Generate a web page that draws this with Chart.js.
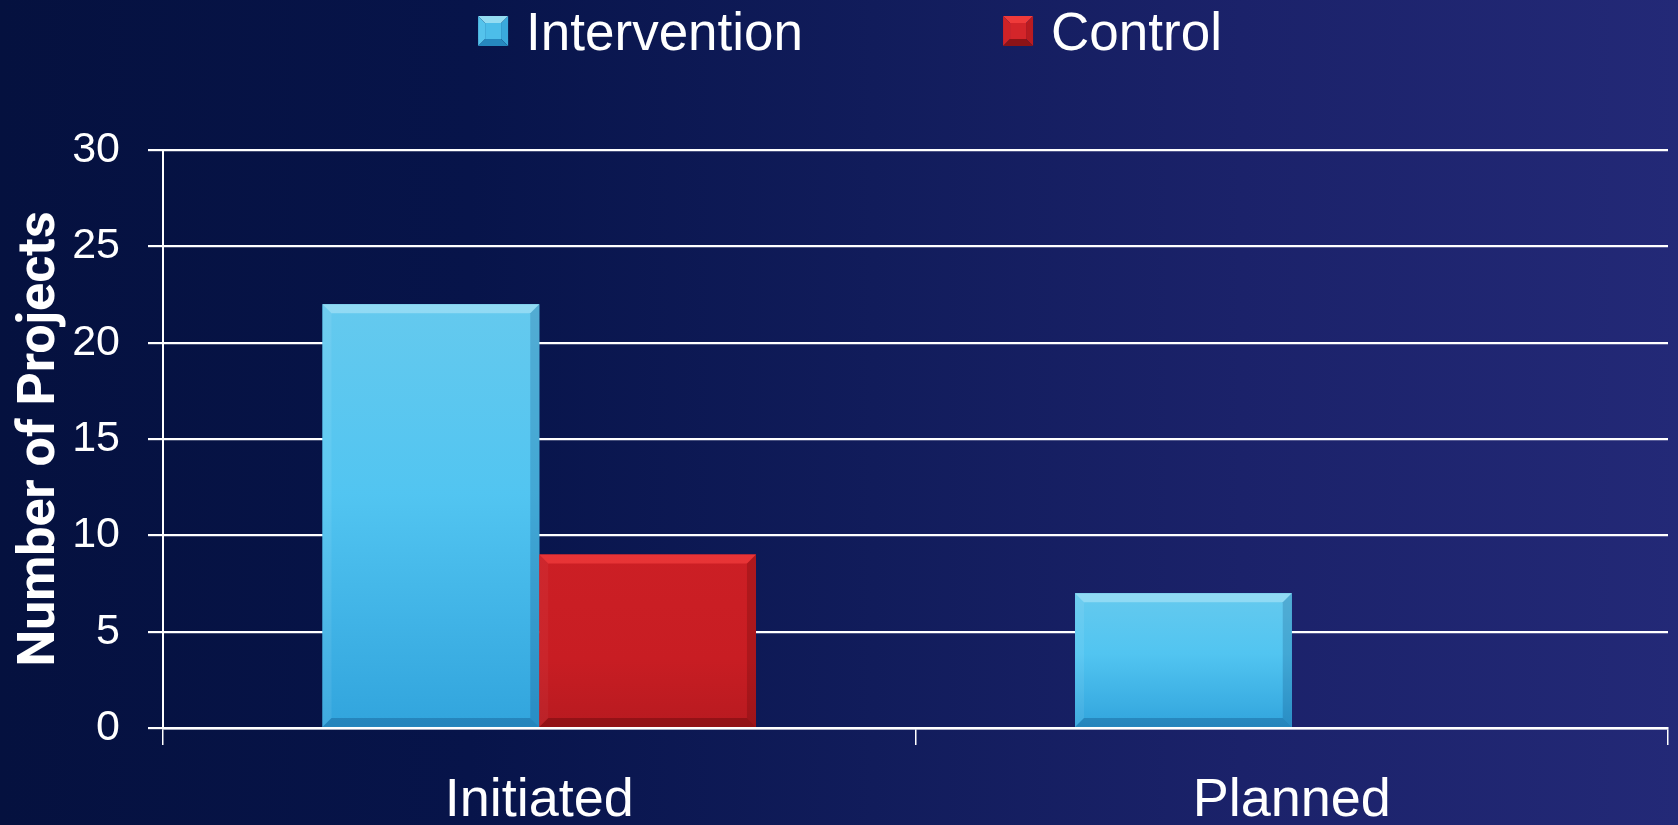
<!DOCTYPE html>
<html>
<head>
<meta charset="utf-8">
<title>Number of Projects</title>
<script src="https://cdn.jsdelivr.net/npm/chart.js@4.4.0/dist/chart.umd.min.js"></script>
<style>
  html, body {
    margin: 0;
    padding: 0;
    width: 1678px;
    height: 825px;
    overflow: hidden;
    background: linear-gradient(to right, #05113f 0%, #07144a 28%, #111c5b 52%, #1b226a 74%, #232977 100%);
  }
  canvas { display: block; }
</style>
</head>
<body>
<canvas id="projectsChart" width="1678" height="825"></canvas>
<script>
const categories = ['Initiated', 'Planned'];
const seriesNames = ['Intervention', 'Control'];
const interventionCounts = [22, 7];
const controlCounts = [9, 0];
const yMin = 0;
const yMax = 30;
const yStep = 5;
const yTitle = 'Number of Projects';

// shading for the bevelled bars and legend swatches
const barLooks = [
  {
    base: '#4cbfee',
    stops: [[0, '#66caee'], [0.45, '#52c5f1'], [1, '#30a3dc']],
    top: 'rgba(200,240,250,0.45)',
    left: 'rgba(255,255,255,0.07)',
    right: 'rgba(0,40,90,0.18)',
    bottom: 'rgba(0,40,90,0.25)',
    swatch: ['#94dcf2', '#55c3ec', '#3aa9dc', '#2688bf', '#4cbde9']
  },
  {
    base: '#c91d23',
    stops: [[0, '#cc1f25'], [0.6, '#c81d23'], [1, '#b71a20']],
    top: 'rgba(255,70,70,0.55)',
    left: 'rgba(255,255,255,0.04)',
    right: 'rgba(60,0,0,0.2)',
    bottom: 'rgba(60,0,0,0.3)',
    swatch: ['#ef3a3a', '#cf2226', '#b91b20', '#8c1317', '#d4252a']
  }
];

function fillPoly(ctx, pts, color) {
  ctx.beginPath();
  ctx.moveTo(pts[0][0], pts[0][1]);
  for (let i = 1; i < pts.length; i++) ctx.lineTo(pts[i][0], pts[i][1]);
  ctx.closePath();
  ctx.fillStyle = color;
  ctx.fill();
}

const bevelBars = {
  id: 'bevelBars',
  afterDatasetsDraw(chart) {
    const ctx = chart.ctx;
    chart.data.datasets.forEach((ds, di) => {
      const meta = chart.getDatasetMeta(di);
      const look = barLooks[di];
      meta.data.forEach(bar => {
        const { x, y, base, width } = bar.getProps(['x', 'y', 'base', 'width'], true);
        const h = base - y;
        if (h < 1) return;
        const l = x - width / 2, r = x + width / 2;
        ctx.save();
        const g = ctx.createLinearGradient(0, y, 0, base);
        look.stops.forEach(([o, c]) => g.addColorStop(o, c));
        ctx.globalAlpha = 0.95;
        ctx.fillStyle = g;
        ctx.fillRect(l, y, width, h);
        ctx.globalAlpha = 1;
        const b = 9;
        fillPoly(ctx, [[l, y], [r, y], [r - b, y + b], [l + b, y + b]], look.top);
        fillPoly(ctx, [[l, y], [l + b, y + b], [l + b, base - b], [l, base]], look.left);
        fillPoly(ctx, [[r, y], [r, base], [r - b, base - b], [r - b, y + b]], look.right);
        fillPoly(ctx, [[l, base], [l + b, base - b], [r - b, base - b], [r, base]], look.bottom);
        ctx.restore();
      });
    });
  }
};

// legend drawn across the top with wide spacing between the two entries
const topLegend = {
  id: 'topLegend',
  afterDraw(chart) {
    const ctx = chart.ctx;
    const box = 30, gap = 18, itemGap = 200, baseline = 50;
    ctx.save();
    ctx.font = '53px "Liberation Sans", Arial, sans-serif';
    const items = chart.data.datasets.map((ds, i) => ({
      text: ds.label,
      look: barLooks[i],
      w: ctx.measureText(ds.label).width
    }));
    const total = items.reduce((s, it) => s + box + gap + it.w, 0) + itemGap * (items.length - 1);
    let x = chart.width / 2 + 11 - total / 2;
    const top = 16;
    items.forEach(it => {
      const [cTop, cLeft, cRight, cBottom, cFace] = it.look.swatch;
      const l = x, r = x + box, t = top, btm = top + box, inset = 7;
      fillPoly(ctx, [[l, t], [r, t], [r - inset, t + inset], [l + inset, t + inset]], cTop);
      fillPoly(ctx, [[l, t], [l + inset, t + inset], [l + inset, btm - inset], [l, btm]], cLeft);
      fillPoly(ctx, [[r, t], [r, btm], [r - inset, btm - inset], [r - inset, t + inset]], cRight);
      fillPoly(ctx, [[l, btm], [l + inset, btm - inset], [r - inset, btm - inset], [r, btm]], cBottom);
      ctx.fillStyle = cFace;
      ctx.fillRect(l + inset, t + inset, box - 2 * inset, box - 2 * inset);
      ctx.fillStyle = '#ffffff';
      ctx.textBaseline = 'alphabetic';
      ctx.textAlign = 'left';
      ctx.fillText(it.text, x + box + gap, baseline);
      x += box + gap + it.w + itemGap;
    });
    ctx.restore();
  }
};

Chart.defaults.font.family = '"Liberation Sans", Arial, sans-serif';
Chart.defaults.color = '#ffffff';

new Chart(document.getElementById('projectsChart').getContext('2d'), {
  type: 'bar',
  data: {
    labels: categories,
    datasets: [
      {
        label: seriesNames[0],
        data: interventionCounts,
        backgroundColor: barLooks[0].base,
        borderWidth: 0
      },
      {
        label: seriesNames[1],
        data: controlCounts,
        backgroundColor: barLooks[1].base,
        borderWidth: 0
      }
    ]
  },
  options: {
    responsive: false,
    animation: false,
    events: [],
    categoryPercentage: 0.576,
    barPercentage: 1.0,
    layout: { padding: { top: 150, right: 10, left: 0, bottom: 0 } },
    plugins: {
      legend: { display: false },
      tooltip: { enabled: false }
    },
    scales: {
      x: {
        offset: true,
        grid: {
          display: true,
          offset: true,
          drawOnChartArea: false,
          tickLength: 17,
          color: '#ffffff',
          lineWidth: 1.5
        },
        border: { display: true, color: '#ffffff', width: 2.5 },
        ticks: {
          color: '#ffffff',
          font: { size: 54 },
          padding: 24
        },
        afterFit(scale) { scale.height = 97; }
      },
      y: {
        min: yMin,
        max: yMax,
        ticks: {
          stepSize: yStep,
          color: '#ffffff',
          font: { size: 43 },
          padding: 28
        },
        grid: { color: '#ffffff', lineWidth: 2.2, tickLength: 15 },
        border: { display: true, color: '#ffffff', width: 2 },
        title: {
          display: true,
          text: yTitle,
          color: '#ffffff',
          font: { family: 'Roboto', weight: 'bold', size: 52 },
          padding: { top: 10, bottom: 0 }
        },
        afterFit(scale) { scale.width = 163; }
      }
    }
  },
  plugins: [bevelBars, topLegend]
});
</script>
</body>
</html>
